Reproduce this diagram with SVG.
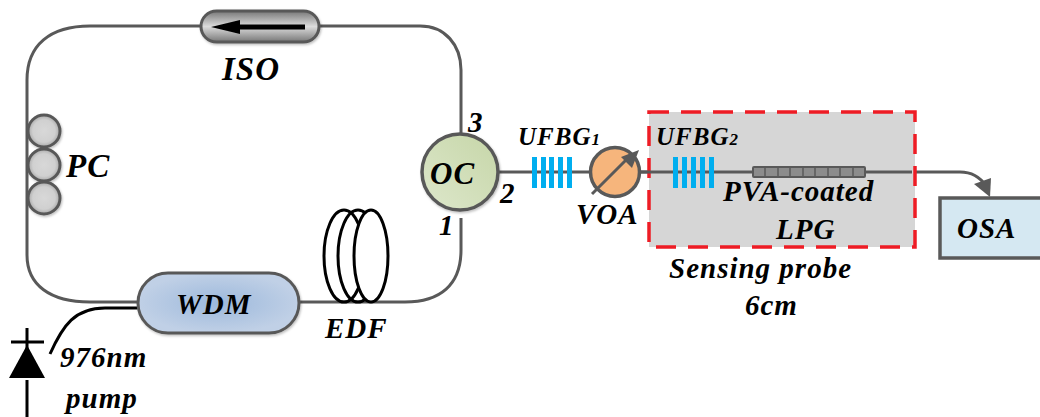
<svg xmlns="http://www.w3.org/2000/svg" width="1040" height="417" viewBox="0 0 1040 417">
<defs>
<radialGradient id="gPc"><stop offset="0" stop-color="#d8d8d8"/><stop offset="0.7" stop-color="#d0d0d0"/><stop offset="1" stop-color="#a8a8a8"/></radialGradient>
<linearGradient id="gIso" x1="0" y1="0" x2="0" y2="1"><stop offset="0" stop-color="#777"/><stop offset="0.5" stop-color="#dcdcdc"/><stop offset="1" stop-color="#777"/></linearGradient>
<radialGradient id="gWdm"><stop offset="0" stop-color="#9db9dc"/><stop offset="1" stop-color="#c0d0e6"/></radialGradient>
<linearGradient id="gOc" x1="1" y1="0" x2="0" y2="1"><stop offset="0" stop-color="#c6d6a8"/><stop offset="1" stop-color="#dde7cb"/></linearGradient>
<filter id="sh" x="-20%" y="-20%" width="140%" height="140%"><feDropShadow dx="1" dy="1.5" stdDeviation="1" flood-color="#000" flood-opacity="0.25"/></filter>
</defs>
<style>
text{font-family:"Liberation Serif","Times New Roman",serif;font-weight:bold;font-style:italic;fill:#000;letter-spacing:1px}
.f{fill:none;stroke:#595959;stroke-width:3}
.b{fill:#00aeef}
.s{stroke:#595959;stroke-width:3}
</style>
<rect width="1040" height="417" fill="#fff"/>
<g id="connectors">
<path class="f" d="M200 26H90C50 26 27 45 27 80V255C27 285 50 302 90 302H138"/>
<path class="f" d="M318 26H420C445 26 461 45 461 70V134"/>
<path class="f" d="M300 302H405C440 302 461 285 461 250V218"/>
<path class="f" d="M499 172H592"/>
<path class="f" d="M640 172H752M865 172H960C975 172 982 180 986 186"/>
<polygon points="974,184 991,178 990,197" fill="#595959"/>
<path d="M50 354C63 325 75 308 105 308H137" fill="none" stroke="#000" stroke-width="3"/>
</g>
<g id="iso" filter="url(#sh)">
<rect x="201" y="11" width="118" height="31" rx="15.5" fill="url(#gIso)" stroke="#595959" stroke-width="3"/>
<path d="M305 24.500H240V20L211 27L240 34V29.500H305Z" fill="#000"/>
</g>
<text x="222" y="80" font-size="33">ISO</text>
<g id="pc" filter="url(#sh)">
<circle cx="44" cy="131" r="16" fill="url(#gPc)" stroke="#595959" stroke-width="3"/>
<circle cx="44" cy="165" r="16" fill="url(#gPc)" stroke="#595959" stroke-width="3"/>
<circle cx="44" cy="198" r="16" fill="url(#gPc)" stroke="#595959" stroke-width="3"/>
</g>
<text x="66" y="177" font-size="33">PC</text>
<g id="wdm">
<rect x="138" y="273" width="161" height="60" rx="30" fill="url(#gWdm)" stroke="#595959" stroke-width="3" filter="url(#sh)"/>
<text x="176" y="314" font-size="29">WDM</text>
</g>
<g id="edf" fill="none" stroke="#000" stroke-width="3">
<ellipse cx="344" cy="256" rx="20" ry="46"/>
<ellipse cx="358" cy="256" rx="20" ry="46"/>
<ellipse cx="371" cy="256" rx="17" ry="46" fill="#fff"/>
</g>
<text x="325" y="338" font-size="29">EDF</text>
<g id="pump">
<path d="M27 328V355M11 342H44M27 380V417" stroke="#000" stroke-width="3" fill="none"/>
<polygon points="27,345 45,378 9,378" fill="#000"/>
</g>
<text x="60" y="367" font-size="29">976nm</text>
<text x="66" y="408" font-size="29">pump</text>
<g id="oc">
<circle cx="460" cy="172" r="38" fill="url(#gOc)" stroke="#595959" stroke-width="3.500" filter="url(#sh)"/>
<text x="430" y="184" font-size="31">OC</text>
</g>
<text x="468" y="132" font-size="29">3</text>
<text x="500" y="203" font-size="29">2</text>
<text x="439" y="235" font-size="29">1</text>
<g id="probe">
<rect x="649" y="112" width="266" height="135" fill="#d6d6d6"/>
<rect x="649" y="112" width="266" height="135" fill="none" stroke="#ee1c25" stroke-width="3.500" stroke-dasharray="20 12"/>
</g>
<path class="f" d="M640 172H752M865 172H912"/>
<g id="ufbg1">
<rect class="b" x="532" y="157" width="5" height="31"/><rect class="b" x="541" y="157" width="5" height="31"/><rect class="b" x="549" y="157" width="5" height="31"/><rect class="b" x="558" y="157" width="5" height="31"/><rect class="b" x="567" y="157" width="5" height="31"/>
</g>
<text x="518" y="145" font-size="25">UFBG<tspan font-size="17">1</tspan></text>
<g id="voa">
<circle cx="615" cy="172" r="24.500" fill="#f6b57c" stroke="#595959" stroke-width="3.500"/>
<path d="M592 194L628 158" stroke="#595959" stroke-width="3" fill="none"/>
<polygon points="639,150 632,168 621,157" fill="#595959"/>
</g>
<text x="576" y="224" font-size="29">VOA</text>
<g id="ufbg2">
<rect class="b" x="673" y="157" width="5" height="31"/><rect class="b" x="682" y="157" width="5" height="31"/><rect class="b" x="691" y="157" width="5" height="31"/><rect class="b" x="700" y="157" width="5" height="31"/><rect class="b" x="709" y="157" width="5" height="31"/>
</g>
<text x="656" y="145" font-size="25">UFBG<tspan font-size="17">2</tspan></text>
<g id="lpg">
<rect x="753" y="167" width="112" height="10" rx="1" fill="#8c8c8c" stroke="#595959" stroke-width="2"/>
<path d="M765 167V177M778 167V177M790 167V177M803 167V177M815 167V177M828 167V177M840 167V177M853 167V177" stroke="#595959" stroke-width="1.500"/>
</g>
<text x="723" y="201" font-size="29">PVA-coated</text>
<text x="776" y="239" font-size="29">LPG</text>
<text x="669" y="278" font-size="29">Sensing probe</text>
<text x="745" y="315" font-size="29">6cm</text>
<g id="osa">
<rect x="940" y="198" width="110" height="60" fill="#d5e8f2" stroke="#595959" stroke-width="3.500"/>
<text x="957" y="238" font-size="29">OSA</text>
</g>
</svg>
